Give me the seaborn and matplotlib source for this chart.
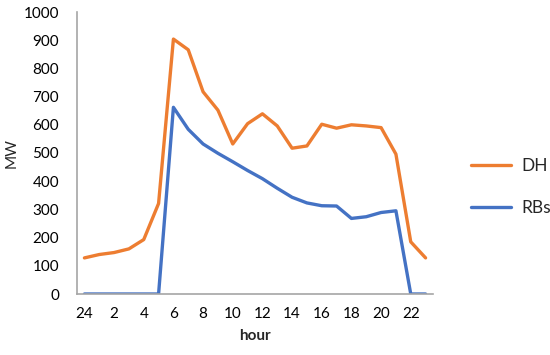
import matplotlib
matplotlib.use("Agg")
import matplotlib.pyplot as plt
import seaborn as sns
import pandas as pd

hours = ["24", "1", "2", "3", "4", "5", "6", "7", "8", "9", "10", "11",
         "12", "13", "14", "15", "16", "17", "18", "19", "20", "21", "22", "23"]
dh = [128, 140, 147, 160, 193, 321, 904, 866, 717, 652, 532, 604,
      639, 596, 517, 525, 602, 588, 600, 596, 590, 496, 185, 128]
rbs = [0, 0, 0, 0, 0, 0, 662, 584, 532, 499, 469, 438,
       409, 375, 343, 323, 313, 312, 268, 274, 289, 295, 0, 0]
series_names = ["DH", "RBs"]
colors = ["#ED7D31", "#4472C4"]
y_ticks = list(range(0, 1001, 100))

sns.set_theme(style="white")
plt.rcParams["font.family"] = ["Lato", "DejaVu Sans"]

pos = list(range(len(hours)))
df = pd.DataFrame({
    "pos": pos * 2,
    "MW": dh + rbs,
    "series": [series_names[0]] * len(hours) + [series_names[1]] * len(hours),
})

fig = plt.figure(figsize=(5.5, 3.55), dpi=100)
ax = fig.add_axes([77 / 550, 61 / 355, 356 / 550, 282 / 355])
sns.lineplot(data=df, x="pos", y="MW", hue="series", palette=colors,
             linewidth=2.4, ax=ax, legend=False)

ax.set_xlim(-0.5, len(hours) - 0.5)
ax.set_ylim(0, 1000)
ax.set_yticks(y_ticks)
ax.set_yticklabels([str(v) for v in y_ticks], fontsize=11)
ax.set_xticks(pos[::2])
ax.set_xticklabels(hours[::2], fontsize=11)
ax.tick_params(axis="both", length=0, colors="black")
ax.tick_params(axis="x", pad=9)
ax.tick_params(axis="y", pad=13)
ax.set_xlabel("hour", fontsize=11, fontweight="bold")
ax.xaxis.set_label_coords(0.5, -35 / 282, transform=ax.transAxes)
ax.set_ylabel("MW", fontsize=11)
ax.yaxis.set_label_coords(-58 / 356, 0.5, transform=ax.transAxes)
for s in ["top", "right"]:
    ax.spines[s].set_visible(False)
for s in ["left", "bottom"]:
    ax.spines[s].set_color("#A6A6A6")
    ax.spines[s].set_linewidth(1.2)

handles = [plt.Line2D([], [], color=c, linewidth=2.4) for c in colors]
fig.legend(handles, series_names, loc="center left",
           bbox_to_anchor=(455 / 550, 1 - 187 / 355), frameon=False,
           fontsize=12.5, labelspacing=1.45, handlelength=2.3, handletextpad=0.6)

fig.savefig("out.png", dpi=100)
